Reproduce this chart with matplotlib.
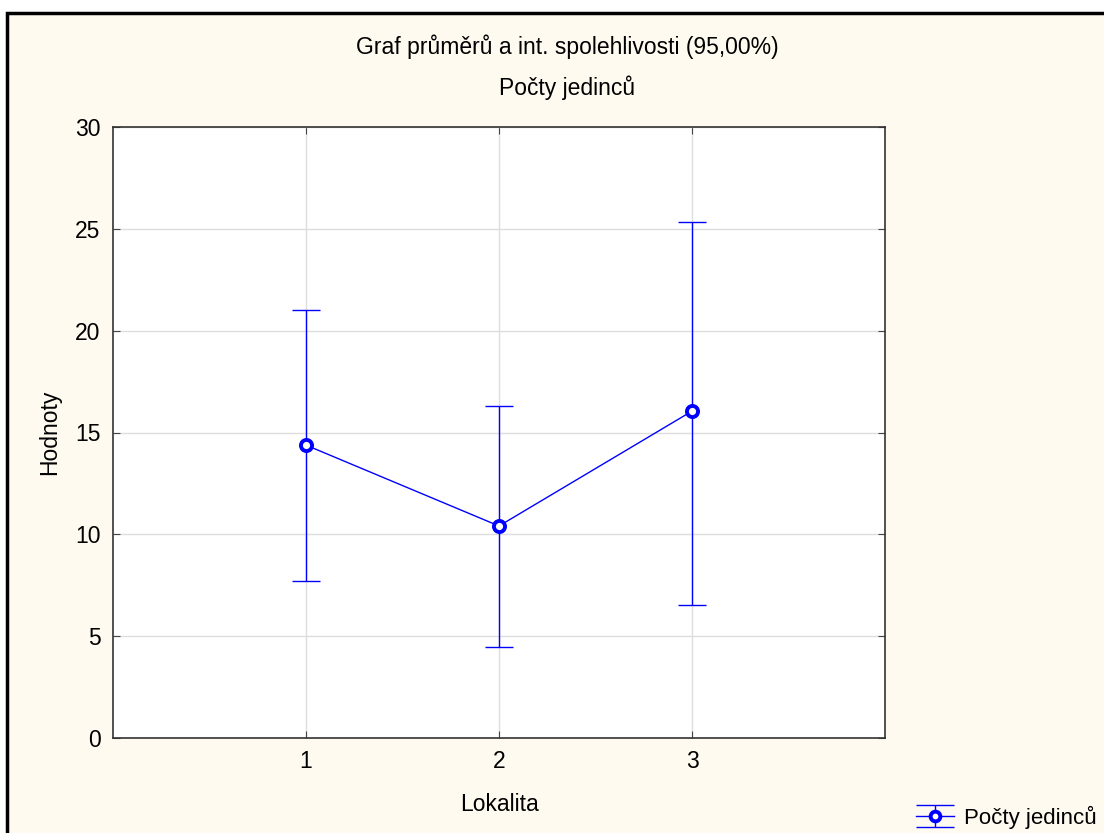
import matplotlib.pyplot as plt
from matplotlib.patches import Rectangle
from matplotlib.legend_handler import HandlerErrorbar

# data
lokality = [1, 2, 3]
prumery = [14.38, 10.41, 16.05]
horni = [21.01, 16.30, 25.33]
dolni = [7.71, 4.47, 6.53]

plt.rcParams['font.family'] = ['Liberation Sans', 'DejaVu Sans']

fig = plt.figure(figsize=(11.04, 8.33), dpi=100, facecolor='white')

# cream frame with black border (right/bottom run off the picture)
fig.patches.append(Rectangle((7 / 1104, -0.05), 1.1, 1 - 13 / 833 + 0.05,
                             transform=fig.transFigure, facecolor='#fffaf0',
                             edgecolor='black', linewidth=2.5, zorder=-10))

ax = fig.add_axes([113 / 1104, 1 - 738 / 833, 772 / 1104, 611 / 833])
ax.set_facecolor('white')

err_lo = [m - d for m, d in zip(prumery, dolni)]
err_hi = [h - m for m, h in zip(prumery, horni)]
ax.errorbar(lokality, prumery, yerr=[err_lo, err_hi], color='#0000ff',
            linewidth=1, elinewidth=1, capsize=10, capthick=1,
            fmt='-', zorder=3)
ax.plot(lokality, prumery, linestyle='none', marker='o', markersize=8,
        markerfacecolor='white', markeredgecolor='#0000ff',
        markeredgewidth=2.8, zorder=4)

ax.set_xlim(0, 4)
ax.set_ylim(0, 30)
ax.set_xticks([1, 2, 3])
ax.set_yticks(range(0, 31, 5))
ax.grid(True, color='#dddddd', linewidth=1)
ax.set_axisbelow(True)
ax.tick_params(labelsize=16.5, length=5, direction='in', top=True, right=True,
               pad=9, color='#444444')
for s in ax.spines.values():
    s.set_color('#333333')
    s.set_linewidth(1.2)

ax.set_xlabel('Lokalita', fontsize=16.5, labelpad=14)
ax.set_ylabel('Hodnoty', fontsize=16.5, labelpad=10)

fig.text(567 / 1104, 1 - 47 / 833, 'Graf průměrů a int. spolehlivosti (95,00%)',
         ha='center', va='center', fontsize=16.5)
fig.text(567 / 1104, 1 - 88 / 833, 'Počty jedinců', ha='center', va='center',
         fontsize=16.5)

# legend: invisible errorbar with wide caps as the handle
nan = float('nan')
eb_leg = ax.errorbar([nan], [nan], yerr=[1], color='#0000ff', linewidth=1,
                     elinewidth=1, capsize=13.5, capthick=1, fmt='-')
marker_h, = ax.plot([], [], linestyle='none', marker='o', markersize=7,
                    markerfacecolor='white', markeredgecolor='#0000ff',
                    markeredgewidth=2.8)
ax.legend([(eb_leg, marker_h)], ['Počty jedinců'], loc='center left',
          bbox_to_anchor=(916 / 1104, 1 - 817 / 833),
          bbox_transform=fig.transFigure, frameon=False, fontsize=16,
          handlelength=1.7, handletextpad=0.45, borderpad=0, borderaxespad=0,
          handler_map={eb_leg: HandlerErrorbar(yerr_size=0.5)})

fig.savefig('out.png', dpi=100, facecolor=fig.get_facecolor())
